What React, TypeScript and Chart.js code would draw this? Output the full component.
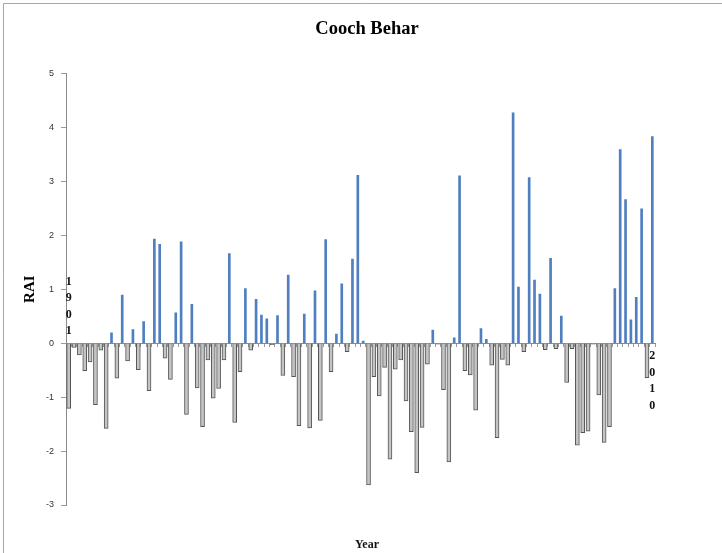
import React, { useEffect, useRef } from "react";
import { Chart, registerables } from "chart.js";

Chart.register(...registerables);

const firstYear = 1901;
const lastYear = 2010;
const years: string[] = [];
for (let y = firstYear; y <= lastYear; y++) years.push(String(y));

// RAI values 1901-2010
const rai: number[] = [
  // 1901-1918
  -1.21, -0.08, -0.22, -0.51, -0.35, -1.14, -0.13, -1.58, 0.19, -0.65,
  0.89, -0.33, 0.25, -0.49, 0.4, -0.88, 1.93, 1.83,
  // 1919-1937
  -0.28, -0.67, 0.56, 1.88, -1.32, 0.72, -0.83, -1.55, -0.31, -1.02,
  -0.84, -0.31, 1.66, -1.47, -0.53, 1.01, -0.13, 0.81, 0.52,
  // 1938-1955
  0.45, -0.03, 0.51, -0.6, 1.26, -0.62, -1.53, 0.54, -1.57, 0.97,
  -1.43, 1.92, -0.53, 0.17, 1.1, -0.16, 1.56, 3.11,
  // 1956-1972
  0.04, -2.63, -0.62, -0.98, -0.45, -2.15, -0.48, -0.31, -1.07, -1.64,
  -2.4, -1.56, -0.39, 0.24, -0.02, -0.86, -2.2,
  // 1973-1991
  0.1, 3.1, -0.51, -0.59, -1.24, 0.27, 0.07, -0.41, -1.75, -0.3,
  -0.41, 4.27, 1.04, -0.16, 3.07, 1.17, 0.91, -0.12, 1.57,
  // 1992-2010
  -0.1, 0.5, -0.73, -0.1, -1.89, -1.66, -1.63, -0.02, -0.96, -1.84,
  -1.55, 1.01, 3.59, 2.66, 0.43, 0.85, 2.49, -0.64, 3.83,
];

const yTicks: number[] = [5, 4, 3, 2, 1, 0, -1, -2, -3];
const stackedLabels: { year: string; above: boolean }[] = [
  { year: "1901", above: true },
  { year: "2010", above: false },
];

const positive = rai.map((v) => (v >= 0 ? v : null));
const negative = rai.map((v) => (v < 0 ? v : null));

const frameAndLabels = {
  id: "frameAndLabels",
  beforeDraw(chart: any) {
    const ctx = chart.ctx;
    ctx.save();
    ctx.fillStyle = "#ffffff";
    ctx.fillRect(0, 0, chart.width, chart.height);
    ctx.strokeStyle = "#a8a8a8";
    ctx.lineWidth = 1;
    ctx.beginPath();
    ctx.moveTo(3.5, chart.height);
    ctx.lineTo(3.5, 3.5);
    ctx.lineTo(chart.width, 3.5);
    ctx.stroke();
    ctx.restore();
  },
  afterDraw(chart: any) {
    const ctx = chart.ctx;
    const xs = chart.scales.x;
    const ys = chart.scales.y;
    const y0 = ys.getPixelForValue(0);
    ctx.save();
    ctx.fillStyle = "#111";
    ctx.font = "bold 12px 'Liberation Serif'";
    ctx.textAlign = "center";
    ctx.textBaseline = "middle";
    stackedLabels.forEach(({ year, above }) => {
      const x = xs.getPixelForValue(years.indexOf(year));
      const chars = year.split("");
      chars.forEach((c, i) => {
        const y = above
          ? y0 - 12 - (chars.length - 1 - i) * 16.5
          : y0 + 13 + i * 16.5;
        ctx.fillText(c, x, y);
      });
    });
    ctx.restore();
  },
};

export default function App() {
  const ref = useRef<HTMLCanvasElement | null>(null);
  useEffect(() => {
    if (!ref.current) return;
    const chart = new Chart(ref.current, {
      type: "bar",
      data: {
        labels: years,
        datasets: [
          {
            label: "RAI +",
            data: positive,
            backgroundColor: "#4f7fbf",
            borderWidth: 0,
            barThickness: 2,
            grouped: false,
          } as any,
          {
            label: "RAI -",
            data: negative,
            backgroundColor: "#c4c4c4",
            borderColor: "#555555",
            borderWidth: 1,
            barThickness: 4,
            grouped: false,
          } as any,
        ],
      },
      options: {
        responsive: false,
        animation: false,
        layout: { padding: { left: 14, right: 2, top: 0, bottom: 0 } },
        plugins: {
          legend: { display: false },
          tooltip: { enabled: false },
          title: {
            display: true,
            text: "Cooch Behar",
            color: "#000",
            font: { family: "'Liberation Serif'", size: 18.5, weight: "bold" },
            padding: { top: 18, bottom: 33.2 },
          },
          subtitle: {
            display: true,
            position: "bottom",
            text: "Year",
            color: "#111",
            font: { family: "'Liberation Serif'", size: 12, weight: "bold" },
            padding: { top: 32.6, bottom: 1 },
          },
        },
        scales: {
          x: {
            type: "category",
            position: { y: 0 } as any,
            offset: true,
            ticks: { display: false },
            grid: {
              display: true,
              drawOnChartArea: false,
              drawTicks: true,
              tickLength: 3,
              color: "#9a9a9a",
            },
            border: { display: true, color: "#8a8a8a", width: 1 },
          },
          y: {
            min: -3,
            max: 5,
            afterBuildTicks: (scale: any) => {
              scale.ticks = yTicks.map((v) => ({ value: v }));
            },
            afterFit: (scale: any) => {
              scale.width = 52;
            },
            ticks: {
              color: "#333",
              font: { family: "'Liberation Sans'", size: 9 },
              padding: 7,
            },
            grid: {
              display: true,
              drawOnChartArea: false,
              drawTicks: true,
              tickLength: 5,
              color: "#9a9a9a",
            },
            border: { display: true, color: "#8a8a8a", width: 1 },
            title: {
              display: true,
              text: "RAI",
              color: "#000",
              font: { family: "'Liberation Serif'", size: 15, weight: "bold" },
              padding: { top: 7, bottom: 0 },
            },
          },
          yRightSpace: {
            type: "linear",
            position: "right",
            display: true,
            min: -3,
            max: 5,
            ticks: { display: false },
            grid: { display: false, drawTicks: false },
            border: { display: false },
            afterFit: (scale: any) => {
              scale.width = 65;
            },
          },
        },
      },
      plugins: [frameAndLabels],
    });
    return () => chart.destroy();
  }, []);
  return (
    <div style={{ position: "fixed", left: 0, top: 0, width: 722, height: 553 }}>
      <canvas ref={ref} width={722} height={553} style={{ display: "block" }} />
    </div>
  );
}
